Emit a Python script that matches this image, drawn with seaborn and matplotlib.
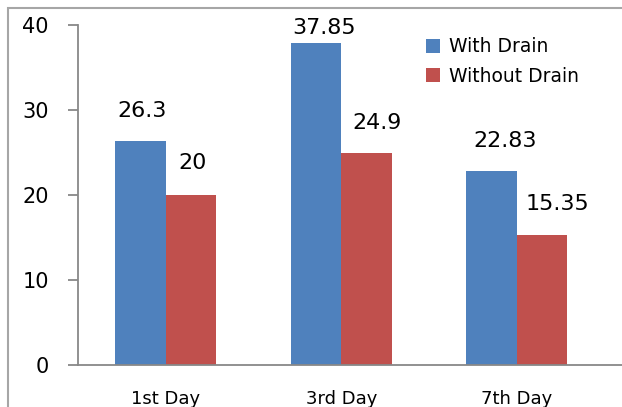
import numpy as np
import matplotlib
matplotlib.use("Agg")
import matplotlib.pyplot as plt
import pandas as pd
import seaborn as sns
from matplotlib.patches import Rectangle

days = ["1st Day", "3rd Day", "7th Day"]
series = ["With Drain", "Without Drain"]
with_drain = [26.3, 37.85, 22.83]
without_drain = [20, 24.9, 15.35]
colors = ["#4F81BD", "#C0504D"]

# label nudges (pixels) so the numbers sit roughly like the original
label_shift = [[(1.5, 30), (8, 15), (14, 30)],
               [(2, 32), (11, 30), (15, 31)]]

df = pd.DataFrame({
    "Day": days * 2,
    "Group": [series[0]] * 3 + [series[1]] * 3,
    "Value": with_drain + without_drain,
})

sns.set_style("white")
plt.rcParams["font.family"] = ["DejaVu Sans"]
plt.rcParams["text.color"] = "black"
plt.rcParams["xtick.color"] = "black"
plt.rcParams["ytick.color"] = "black"

fig = plt.figure(figsize=(6.22, 4.07), dpi=100)
ax = fig.add_axes([78 / 622, 42 / 407, 544 / 622, 340 / 407])

sns.barplot(data=df, x="Day", y="Value", hue="Group", palette=colors,
            width=0.576, gap=0, linewidth=0, saturation=1, ax=ax, errorbar=None)

ax.set_xlim(-0.5, 2.6)
ax.set_ylim(0, 40)
ax.set_yticks([0, 10, 20, 30, 40])
ax.set_xlabel("")
ax.set_ylabel("")

for side in ["top", "right"]:
    ax.spines[side].set_visible(False)
for side in ["left", "bottom"]:
    ax.spines[side].set_color("#888888")
    ax.spines[side].set_linewidth(1.3)

ax.tick_params(axis="y", direction="out", length=7, width=1.3, color="#888888",
               labelcolor="black", pad=14, labelsize=15, left=True)
ax.tick_params(axis="x", length=0, pad=18, labelsize=13, labelcolor="black")

for ci, cont in enumerate(ax.containers):
    for bi, bar in enumerate(cont):
        v = bar.get_height()
        dx, dy = label_shift[ci][bi]
        ax.annotate(f"{v:g}", (bar.get_x() + bar.get_width() / 2, v),
                    xytext=(dx, dy), textcoords="offset pixels",
                    ha="center", va="center", fontsize=16, color="black")

leg = ax.legend(loc="upper left", bbox_to_anchor=(417 / 622, 1 - 28 / 407),
                bbox_transform=fig.transFigure, frameon=False, fontsize=13.5,
                handlelength=0.75, handleheight=0.75, handletextpad=0.45,
                labelspacing=0.55, borderpad=0)
for t in leg.get_texts():
    t.set_color("black")

# outer chart frame
fig.patches.append(Rectangle((8 / 622, -0.1), 1.2, 1.1 - 8 / 407,
                             transform=fig.transFigure, fill=False,
                             edgecolor="#A6A6A6", linewidth=1.5))

fig.savefig("out.png", dpi=100)
